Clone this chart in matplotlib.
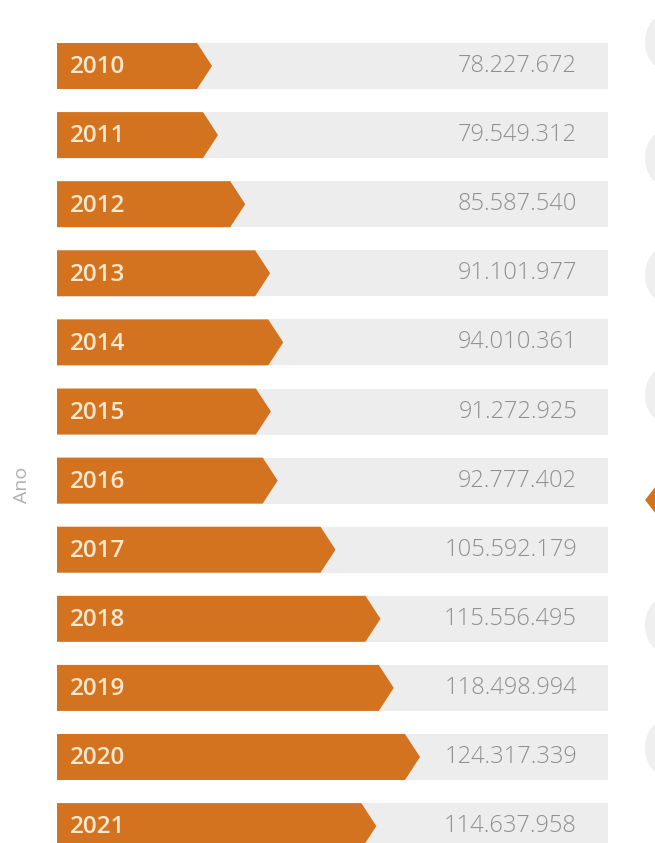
import matplotlib
matplotlib.use("Agg")
import matplotlib.pyplot as plt
from matplotlib.patches import Polygon, Rectangle, Circle

# dados por ano
anos = ["2010", "2011", "2012", "2013", "2014", "2015",
        "2016", "2017", "2018", "2019", "2020", "2021"]
valores = [78227672, 79549312, 85587540, 91101977, 94010361, 91272925,
           92777402, 105592179, 115556495, 118498994, 124317339, 114637958]

x_ini = 43.88e6
x_fim = 165.97e6
laranja = "#d3731f"
cinza_fundo = "#ededed"
cinza_texto = "#909090"

W, H = 655, 843
fig = plt.figure(figsize=(W / 100, H / 100), dpi=100)
ax = fig.add_axes([57 / W, 0, 551 / W, 1])
ax.set_xlim(x_ini, x_fim)
passo = 69.1
ax.set_ylim((H - 66) / passo, -66 / passo)
ax.axis("off")

largura = x_fim - x_ini
ponta = largura * 15 / 551
alt = 46 / passo

for i, (ano, v) in enumerate(zip(anos, valores)):
    ax.add_patch(Rectangle((x_ini, i - alt / 2), largura, alt,
                           facecolor=cinza_fundo, edgecolor="none"))
    seta = [(x_ini, i - alt / 2), (v - ponta, i - alt / 2), (v, i),
            (v - ponta, i + alt / 2), (x_ini, i + alt / 2)]
    ax.add_patch(Polygon(seta, closed=True, facecolor=laranja, edgecolor="none"))
    ax.text(x_ini + largura * 13 / 551, i + 0.02, ano, ha="left", va="center",
            color="#fbe8cf", fontsize=17.5, fontweight="semibold", family="Open Sans")
    ax.text(x_fim - largura * 31 / 551, i,
            f"{v:,}".replace(",", "."), ha="right", va="center",
            color=cinza_texto, fontsize=17, fontweight="light", family="Open Sans")

fig.text(22 / W, 1 - 485 / H, "Ano", rotation=90, ha="center", va="center",
         color="#b0b0b0", fontsize=14, family="Open Sans")

# marcadores do painel vizinho, cortados na borda direita
for yc in [42, 158, 275, 395, 625, 748]:
    fig.add_artist(Circle((667 / W, 1 - yc / H), 22 / W, facecolor="#efefef",
                          edgecolor="none", transform=fig.transFigure))
fig.add_artist(Polygon([(645 / W, 1 - 500 / H), (660 / W, 1 - 481 / H),
                        (660 / W, 1 - 519 / H)], closed=True,
                       facecolor=laranja, edgecolor="none", transform=fig.transFigure))

fig.savefig("out.png", dpi=100)
